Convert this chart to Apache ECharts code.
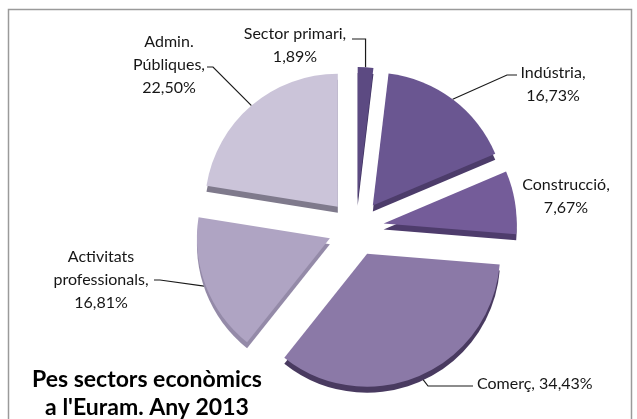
<!DOCTYPE html>
<html>
<head>
<meta charset="utf-8">
<script src="https://cdn.jsdelivr.net/npm/echarts@6/dist/echarts.min.js"></script>
<style>
  html, body { margin: 0; padding: 0; background: #fff; }
  #chart { width: 637px; height: 419px; }
</style>
</head>
<body>
<div id="chart"></div>
<script>
// Economic sectors at the Euram, 2013 (share of total, %)
const categories = ['Sector primari', 'Indústria', 'Construcció', 'Comerç', 'Activitats\nprofessionals', 'Admin.\nPúbliques'];
const shares = [1.89, 16.73, 7.67, 34.43, 16.81, 22.50];
const titleLines = ['Pes sectors econòmics', "a l'Euram. Any 2013"];

// Face and side (thickness) colours of each slice
const faceColors = ['#5c4a82', '#6a5691', '#745c99', '#8b79a7', '#afa4c3', '#cbc4d9'];
const sideColors = ['#3f3260', '#4c3c6a', '#4e3c6c', '#493a60', '#948aa8', '#7f7a8c'];

// Geometry of the exploded pie
const cx = 356, cy = 228, R = 133, gap = 28, depth = 6;

// Where each label sits and how its leader runs (from slice to text)
const labelSpots = [
  { x: 295, y: 45.5, align: 'center', sep: '\n', line: p => [[p[0], 39], [352, 39]] },
  { x: 553, y: 84.5, align: 'center', sep: '\n', line: p => [[507, 75], [517, 75]] },
  { x: 566, y: 196.5, align: 'center', sep: '\n', line: null },
  { x: 477, y: 384, align: 'left', sep: ' ', line: p => [[p[0] + 8, 386], [473, 386]] },
  { x: 101, y: 280, align: 'center', sep: '\n', line: p => [[160, 280], [154, 280]] },
  { x: 169, y: 65, align: 'center', sep: '\n', line: p => [[213, 67], [207, 67]] }
];

const fmtPct = v => v.toFixed(2).replace('.', ',') + '%';
const total = shares.reduce((a, b) => a + b, 0);

let acc = 0;
const series = categories.map((name, i) => {
  const mid = (acc + shares[i] / 2) / total * Math.PI * 2;
  acc += shares[i];
  const spot = labelSpots[i];
  return {
    type: 'pie',
    center: [cx + gap * Math.sin(mid), cy - gap * Math.cos(mid)],
    radius: [0, R],
    startAngle: 90,
    clockwise: true,
    avoidLabelOverlap: false,
    silent: true,
    animation: false,
    z: 2,
    label: {
      position: 'outside',
      fontFamily: 'Lato',
      fontSize: 16,
      lineHeight: 23,
      color: '#161616',
      formatter: p => p.name + ',' + spot.sep + fmtPct(p.value)
    },
    labelLine: {
      lineStyle: { color: '#1a1a1a', width: 1.2 }
    },
    data: shares.map((v, j) => ({
      name: categories[j],
      value: v,
      itemStyle: j === i
        ? { color: faceColors[j], borderWidth: 0, shadowColor: sideColors[j], shadowOffsetY: depth, shadowBlur: 0 }
        : { color: 'rgba(0,0,0,0)', borderWidth: 0 },
      label: { show: j === i, align: spot.align },
      labelLine: { show: j === i && !!spot.line }
    })),
    labelLayout: params => {
      if (params.dataIndex !== i) return {};
      const out = { x: spot.x, y: spot.y, align: spot.align, verticalAlign: 'middle' };
      const pts = params.labelLinePoints;
      if (spot.line && pts && pts.length) {
        const p0 = pts[0];
        out.labelLinePoints = [p0].concat(spot.line(p0));
      }
      return out;
    }
  };
});

const chart = echarts.init(document.getElementById('chart'), null, { renderer: 'canvas' });
chart.setOption({
  backgroundColor: '#ffffff',
  animation: false,
  graphic: [
    {
      type: 'rect',
      shape: { x: 8.5, y: 9.5, width: 623, height: 420 },
      style: { fill: 'none', stroke: '#9a9a9a', lineWidth: 1.5 },
      z: 0
    },
    {
      type: 'text',
      x: 147,
      y: 394,
      z: 10,
      style: {
        text: titleLines.join('\n'),
        align: 'center',
        verticalAlign: 'middle',
        fontFamily: 'Lato',
        fontWeight: 'bold',
        fontSize: 23,
        lineHeight: 28,
        fill: '#000'
      }
    }
  ],
  series: series
});
</script>
</body>
</html>
